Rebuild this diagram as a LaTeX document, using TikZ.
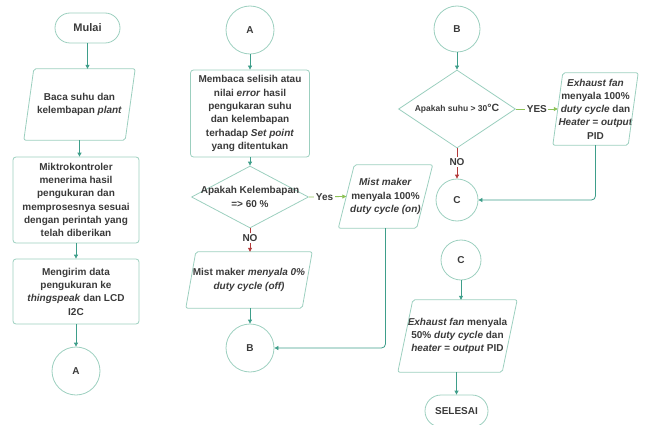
\documentclass[tikz,border=0pt]{standalone}
\usepackage{fontspec}
\setmainfont{Liberation Sans}
\usetikzlibrary{arrows.meta,shapes.geometric}
\definecolor{bord}{HTML}{9CCFBF}
\definecolor{arr}{HTML}{3E9E8A}
\definecolor{txtc}{HTML}{3A3A3A}
\definecolor{nored}{HTML}{B23A3A}
\definecolor{yesgreen}{HTML}{8DC257}
\newcommand\parashape[2]{\draw[pbox] ([xshift=#2]#1.north west) -- ([xshift=#2]#1.north east) -- ([xshift=-#2]#1.south east) -- ([xshift=-#2]#1.south west) -- cycle;}
\begin{document}
\begin{tikzpicture}[x=1pt,y=-1pt,
  every node/.style={text=txtc,font=\fontsize{10}{13.3}\selectfont\bfseries,inner sep=0pt,align=center},
  box/.style={draw=bord,line width=0.8pt,rounded corners=3pt},
  term/.style={draw=bord,line width=0.8pt,rounded corners=15pt,minimum height=30pt},
  circ/.style={draw=bord,line width=0.8pt,circle},
  shp/.style={minimum width=#1},
  pbox/.style={draw=bord,line width=0.8pt,rounded corners=2pt},
  dia/.style={draw=bord,line width=0.8pt,diamond},
  conn/.style={draw=arr,line width=0.8pt,-{Triangle[width=4pt,length=4pt]}},
  noline/.style={draw=nored,line width=0.8pt,-{Triangle[width=4pt,length=4pt]}},
  yesline/.style={draw=yesgreen,line width=0.8pt,-{Triangle[width=4pt,length=4pt]}},
  lab/.style={fill=white,inner sep=1.5pt}
]
\useasboundingbox (0,0) rectangle (645,425);

% ---------- left column ----------
\node[term,minimum width=65pt,font=\fontsize{11}{13}\selectfont\bfseries] (mulai) at (87.5,28) {Mulai};
\node[minimum width=101pt,minimum height=71pt] (p1) at (79.5,104.5) {Baca suhu dan\\kelembapan \textit{plant}};
\parashape{p1}{5pt}
\node[box,minimum width=126pt,minimum height=86pt] (r1) at (76,200) {Miktrokontroler\\menerima hasil\\pengukuran dan\\memprosesnya sesuai\\dengan perintah yang\\telah diberikan};
\node[box,minimum width=126pt,minimum height=65pt] (r2) at (76,291.5) {Mengirim data\\pengukuran ke\\\textit{thingspeak} dan LCD\\I2C};
\node[circ,minimum size=48pt] (ca1) at (76,371) {A};

\draw[conn] (mulai.south) -- (mulai.south |- p1.north);
\draw[conn] (p1.south) -- (p1.south |- r1.north);
\draw[conn] (r1.south) -- (r2.north);
\draw[conn] (r2.south) -- (ca1.north);

% ---------- middle column ----------
\node[circ,minimum size=48pt] (ca2) at (250,30) {A};
\node[box,minimum width=119pt,minimum height=87pt] (r3) at (250,113.5) {Membaca selisih atau\\nilai \textit{error} hasil\\pengukaran suhu\\dan kelembapan\\terhadap \textit{Set point}\\yang ditentukan};
\node[dia,minimum width=117pt,minimum height=62pt] (d1) at (250,197) {};
\node (d1t) at (d1.center) {Apakah Kelembapan\\=> 60 \%};
\node[minimum width=78pt,minimum height=63pt] (m1) at (385.5,196.5) {\textit{Mist maker}\\menyala 100\%\\\textit{duty cycle (on)}};
\parashape{m1}{8pt}
\node[minimum width=116pt,minimum height=56pt] (m0) at (249,280) {Mist maker \textit{menyala 0\%}\\\textit{duty cycle (off)}};
\parashape{m0}{5pt}
\node[circ,minimum size=48pt] (cb1) at (250,348) {B};

\draw[conn] (ca2.south) -- (r3.north);
\draw[conn] (r3.south) -- (d1.north);
\draw[yesline] (d1.east) -- node[lab,pos=0.42] (yes1) {Yes} (m1.west);
\draw[noline] (d1.south) -- node[lab,pos=0.4] (no1) {NO} (d1.south |- m0.north);
\draw[conn] (d1.south |- m0.south) -- (cb1.north);
\draw[conn,rounded corners=4pt] (m1.south) |- (cb1.east);

% ---------- right column ----------
\node[circ,minimum size=46pt] (cb2) at (457,29) {B};
\node[dia,minimum width=117pt,minimum height=78pt] (d2) at (457,109) {};
\node[font=\fontsize{8.5}{10}\selectfont\bfseries] (d2t) at (d2.center) {Apakah suhu > 30{\fontsize{10.5}{10}\selectfont°C}};
\node[minimum width=75pt,minimum height=72pt] (e1) at (595.5,109) {};
\node (e1t) at (e1.center) {\textit{Exhaust fan}\\menyala 100\%\\\textit{duty cycle} dan\\\textit{Heater = output}\\PID};
\parashape{e1}{5pt}
\node[circ,minimum size=42pt] (cc1) at (457,200) {C};

\draw[conn] (cb2.south) -- (d2.north);
\draw[yesline] (d2.east) -- node[lab,pos=0.5] (yes2) {YES} (e1.west);
\draw[noline] (d2.south) -- node[lab,pos=0.45] (no2) {NO} (cc1.north);
\draw[conn,rounded corners=4pt] (e1.south) |- (cc1.east);

% ---------- lower right ----------
\node[circ,minimum size=40pt] (cc2) at (461,260) {C};
\node[minimum width=104pt,minimum height=72pt] (e2) at (457.5,336) {\textit{Exhaust fan} menyala\\50\% \textit{duty cycle} dan\\\textit{heater = output} PID};
\parashape{e2}{7.5pt}
\node[term,minimum width=63pt,minimum height=32pt,rounded corners=16pt] (sel) at (456.5,411) {SELESAI};

\draw[conn] (cc2.south) -- (cc2.south |- e2.north);
\draw[conn] (sel.north |- e2.south) -- (sel.north);
\end{tikzpicture}
\end{document}
